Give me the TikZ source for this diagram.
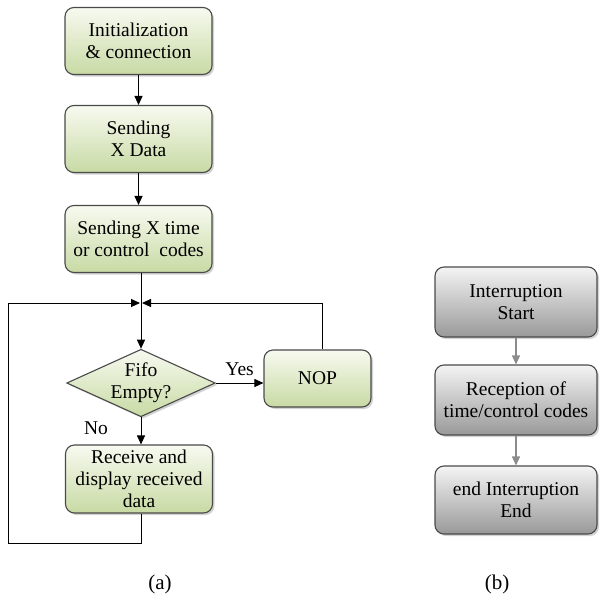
\documentclass[tikz,border=0pt]{standalone}
\usepackage{fontspec}
\setmainfont{Liberation Serif}
\usetikzlibrary{shapes.geometric,shadows,arrows.meta}
\definecolor{greentop}{HTML}{F7FAF0}
\definecolor{greenbot}{HTML}{C8DAA4}
\definecolor{graytop}{HTML}{F4F4F4}
\definecolor{graybot}{HTML}{999999}
\definecolor{edge}{HTML}{4A4A4A}
\tikzset{
  flowbox/.style={draw=edge, line width=1.1pt, rounded corners=9pt,
    align=center, inner sep=2pt, font=\fontsize{19.5}{22}\selectfont,
    drop shadow={shadow xshift=2pt, shadow yshift=-2pt, opacity=0.35}},
  greenbox/.style={flowbox, top color=greentop, bottom color=greenbot},
  graybox/.style={flowbox, top color=graytop, bottom color=graybot},
  decision/.style={diamond, aspect=2.2, draw=edge, line width=1.1pt, align=center,
    inner sep=0pt, font=\fontsize{19.5}{22}\selectfont,
    top color=greentop, bottom color=greenbot,
    drop shadow={shadow xshift=2pt, shadow yshift=-2pt, opacity=0.35}},
  link/.style={line width=1pt, draw=black, -{Triangle[length=9pt,width=8pt]}},
  line/.style={line width=1pt, draw=black},
  graylink/.style={line width=1.2pt, draw=gray!90, -{Triangle[length=9pt,width=8pt]}},
  caption/.style={font=\fontsize{21}{24}\selectfont}
}
\begin{document}
\begin{tikzpicture}[x=1pt,y=-1pt]
  \useasboundingbox (0,0) rectangle (600,611);

  % flowchart (a)
  \node[greenbox, minimum width=147pt, minimum height=67pt] (init) at (138.5,41) {Initialization\\\& connection};
  \node[greenbox, minimum width=147pt, minimum height=67pt] (xdata) at (138.5,139) {Sending\\X Data};
  \node[greenbox, minimum width=147pt, minimum height=67pt] (xtime) at (138.5,239) {Sending X time\\or control\ \ codes};
  \coordinate (join) at (141,303);
  \node[decision, minimum width=148pt, minimum height=67pt] (fifo) at (141,383) {Fifo\\Empty?};
  \node[greenbox, minimum width=107pt, minimum height=57pt] (nop) at (317.5,378.5) {NOP};
  \node[greenbox, minimum width=147pt, minimum height=68pt] (recv) at (139,479) {Receive and\\display received\\data};
  \coordinate (lowright) at (141,543);
  \coordinate (lowleft) at (8,543);
  \coordinate (upleft) at (8,303);
  \coordinate (nopup) at (322,303);

  \draw[link] (init) -- (xdata);
  \draw[link] (xdata) -- (xtime);
  \draw[line] (xtime.south -| join) -- (join);
  \draw[link] (join) -- (fifo.north);
  \draw[link] (fifo.east) -- (fifo.east -| nop.west) node[midway, above=3pt, caption, font=\fontsize{19.5}{22}\selectfont] {Yes};
  \draw[link] (fifo.south) -- (recv.north -| fifo.south);
  \node[font=\fontsize{19.5}{22}\selectfont] (no) at (96,428) {No};
  \draw[link] (recv.south -| lowright) -- (lowright) -- (lowleft) -- (upleft) -- ([xshift=-1pt]join);
  \draw[link] (nop.north -| nopup) -- (nopup) -- ([xshift=1pt]join);

  % flowchart (b)
  \node[graybox, minimum width=162pt, minimum height=70pt] (istart) at (516,302) {Interruption\\Start};
  \node[graybox, minimum width=162pt, minimum height=70pt] (recept) at (516,400) {Reception of\\time/control codes};
  \node[graybox, minimum width=162pt, minimum height=68pt] (iend) at (516,500) {end Interruption\\End};
  \draw[graylink] (istart) -- (recept);
  \draw[graylink] (recept) -- (iend);

  % captions
  \node[caption] (capa) at (160,584) {(a)};
  \node[caption] (capb) at (497,584) {(b)};
\end{tikzpicture}
\end{document}
